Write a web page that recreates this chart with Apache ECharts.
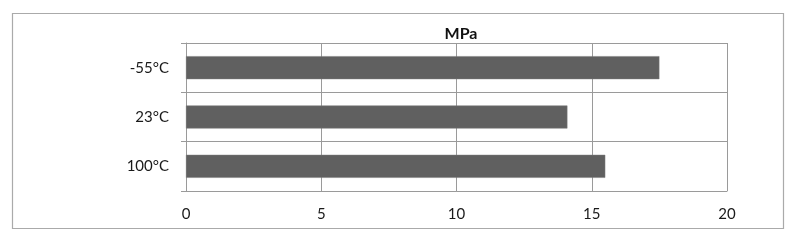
<!DOCTYPE html>
<html><head><meta charset="utf-8">
<script src="https://cdn.jsdelivr.net/npm/echarts@6/dist/echarts.min.js"></script>
<style>html,body{margin:0;padding:0;background:#fff}#c{width:800px;height:245px}</style>
</head><body><div id="c"></div>
<script>
const categories = ['-55°C', '23°C', '100°C'];
const values = [17.5, 14.1, 15.5];
const xTicks = [0, 20, 5];
const titleText = 'MPa';

const chart = echarts.init(document.getElementById('c'), null, {renderer: 'canvas'});
const font = 'Lato, "Open Sans", sans-serif';
chart.setOption({
  animation: false,
  backgroundColor: '#fff',
  title: {text: titleText, left: 456, top: 21, textAlign: 'center',
    textStyle: {fontFamily: font, fontSize: 16, fontWeight: 'bold', color: '#111'}},
  graphic: [{type: 'rect', shape: {x: 12.5, y: 13.5, width: 771, height: 215},
    style: {fill: 'none', stroke: '#aaaaaa', lineWidth: 1.2}, silent: true}],
  grid: {left: 186, right: 73, top: 43, bottom: 54, containLabel: false},
  xAxis: {type: 'value', min: xTicks[0], max: xTicks[1], interval: xTicks[2],
    axisLine: {show: true, lineStyle: {color: '#9a9a9a'}},
    axisTick: {show: false},
    axisLabel: {margin: 16, fontFamily: font, fontSize: 15, color: '#1a1a1a'},
    splitLine: {show: true, lineStyle: {color: '#9a9a9a', width: 1}}},
  yAxis: {type: 'category', data: categories, inverse: true,
    axisLine: {show: true, lineStyle: {color: '#9a9a9a'}},
    axisTick: {show: true, length: 5, lineStyle: {color: '#9a9a9a'}},
    axisLabel: {margin: 17, fontFamily: font, fontSize: 15, color: '#1a1a1a'},
    splitLine: {show: true, lineStyle: {color: '#9a9a9a', width: 1}}},
  series: [{type: 'bar', data: values, barWidth: 23,
    itemStyle: {color: '#606060', borderColor: '#7a7a7a', borderWidth: 0.5}}]
});
</script></body></html>
